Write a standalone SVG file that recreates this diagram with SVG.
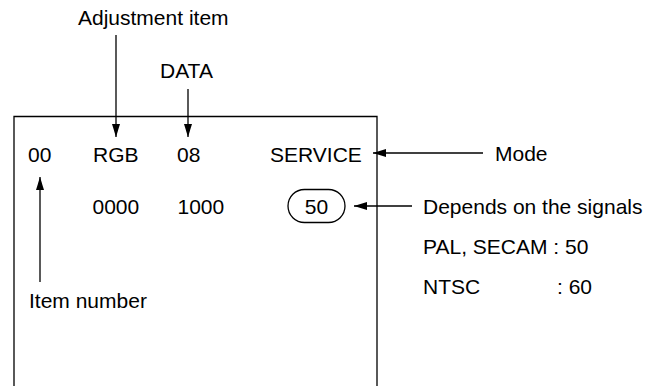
<svg xmlns="http://www.w3.org/2000/svg" width="663" height="386" viewBox="0 0 663 386">
<style>
text{font-family:"Liberation Sans",Arial,sans-serif;font-size:21px;fill:#000}
.ln{stroke:#000;stroke-width:1.3;fill:none}
</style>
<defs>
<marker id="ah" viewBox="0 0 13 8" refX="13" refY="4" markerWidth="13" markerHeight="8" markerUnits="userSpaceOnUse" orient="auto">
<path d="M0,0 L13,4 L0,8 Z" fill="#000"/>
</marker>
</defs>
<rect width="663" height="386" fill="#fff"/>
<g id="screen">
<path class="ln" d="M14,386 V116.5 H377 V386"/>
</g>
<g id="row1">
<text x="28" y="161.5">00</text>
<text x="93" y="161.5">RGB</text>
<text x="177" y="161.5">08</text>
<text x="270" y="161.5">SERVICE</text>
</g>
<g id="row2">
<text x="92.5" y="214">0000</text>
<text x="177.5" y="214">1000</text>
<g id="oval">
<rect class="ln" x="288" y="189.5" width="57" height="33" rx="16.5"/>
<text x="316.5" y="214" text-anchor="middle">50</text>
</g>
</g>
<g id="labels">
<text x="78" y="25">Adjustment item</text>
<text x="160" y="78">DATA</text>
<text x="495" y="161">Mode</text>
<text x="423" y="213.5">Depends on the signals</text>
<text x="423" y="253.5">PAL, SECAM : 50</text>
<text x="423" y="293.5">NTSC</text>
<text x="557" y="293.5">: 60</text>
<text x="29" y="307.5">Item number</text>
</g>
<g id="connectors">
<line class="ln" x1="116" y1="35" x2="116" y2="137" marker-end="url(#ah)"/>
<line class="ln" x1="188" y1="89" x2="188" y2="137" marker-end="url(#ah)"/>
<line class="ln" x1="483" y1="153" x2="373" y2="153" marker-end="url(#ah)"/>
<line class="ln" x1="412" y1="206" x2="354" y2="206" marker-end="url(#ah)"/>
<line class="ln" x1="40" y1="282" x2="40" y2="177" marker-end="url(#ah)"/>
</g>
</svg>
